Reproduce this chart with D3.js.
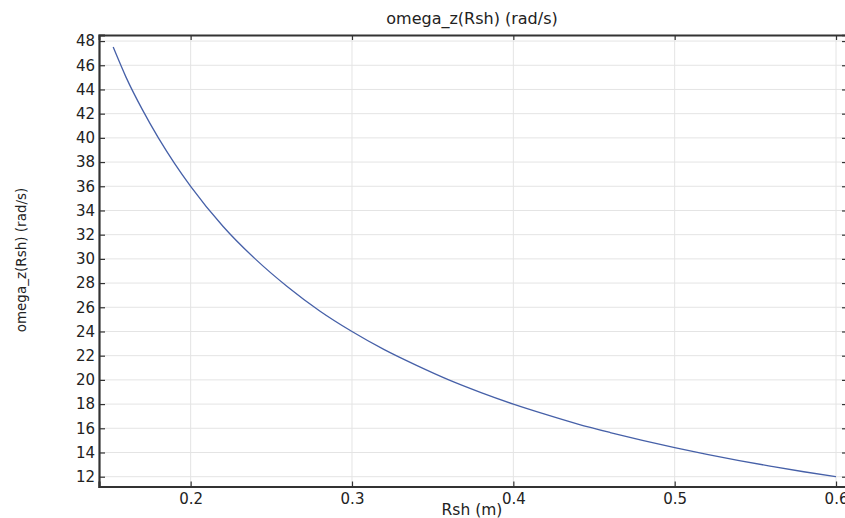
<!DOCTYPE html>
<html>
<head>
<meta charset="utf-8">
<script src="https://cdn.jsdelivr.net/npm/d3@7/dist/d3.min.js"></script>
<style>
  html, body { margin: 0; padding: 0; background: #fff; }
  svg { display: block; }
  text { font-family: "DejaVu Sans", sans-serif; fill: #222; }
</style>
</head>
<body>
<svg id="chart" width="845" height="518"></svg>
<script>
// Shaft radius (m) and the corresponding angular velocity omega_z (rad/s)
const rshValues   = [0.152, 0.16, 0.17, 0.18, 0.19, 0.20, 0.22, 0.24, 0.26, 0.28, 0.30,
                     0.32, 0.34, 0.36, 0.38, 0.40, 0.42, 0.44, 0.46, 0.48, 0.50,
                     0.52, 0.54, 0.56, 0.58, 0.60];
const omegaValues = [47.5, 45.0, 42.35, 40.0, 37.9, 36.0, 32.7, 30.0, 27.7, 25.7, 24.0,
                     22.5, 21.2, 20.0, 18.95, 18.0, 17.15, 16.35, 15.65, 15.0, 14.4,
                     13.85, 13.33, 12.86, 12.41, 12.0];
const xTicks = [0.2, 0.3, 0.4, 0.5, 0.6];
const yTicks = [12, 14, 16, 18, 20, 22, 24, 26, 28, 30, 32, 34, 36, 38, 40, 42, 44, 46, 48];

const titleText = "omega_z(Rsh) (rad/s)";
const xLabel = "Rsh (m)";
const yLabel = "omega_z(Rsh) (rad/s)";

const svg = d3.select("#chart");
const plotLeft = 99, plotRight = 847, plotTop = 35, plotBottom = 486.5;

const x = d3.scaleLinear().domain([0.1432, 0.6068]).range([plotLeft, plotRight]);
const y = d3.scaleLinear().domain([11.19, 48.5]).range([plotBottom, plotTop]);

// grid
const grid = svg.append("g");
grid.selectAll("line.h").data(yTicks).join("line")
  .attr("class", "h")
  .attr("x1", plotLeft).attr("x2", plotRight)
  .attr("y1", d => y(d)).attr("y2", d => y(d))
  .attr("stroke", "#e4e4e4").attr("stroke-width", 1);
grid.selectAll("line.v").data(xTicks).join("line")
  .attr("class", "v")
  .attr("y1", plotTop).attr("y2", plotBottom)
  .attr("x1", d => x(d)).attr("x2", d => x(d))
  .attr("stroke", "#e4e4e4").attr("stroke-width", 1);

// axes (ticks point inward)
const fmtX = d3.format(".1f");
const yAxisL = d3.axisLeft(y).tickValues(yTicks).tickSize(-6).tickPadding(4);
const yAxisR = d3.axisRight(y).tickValues(yTicks).tickSize(-5).tickFormat("");
const xAxisB = d3.axisBottom(x).tickValues(xTicks).tickSize(-5).tickPadding(7).tickFormat(fmtX);
const xAxisT = d3.axisTop(x).tickValues(xTicks).tickSize(-5).tickFormat("");

function style(g, w) {
  g.select(".domain").attr("stroke", "#333").attr("stroke-width", w);
  g.selectAll(".tick line").attr("stroke", "#333").attr("stroke-width", 1.2);
  g.selectAll(".tick text").attr("font-family", "DejaVu Sans, sans-serif")
    .attr("font-size", 15).attr("fill", "#1e1e1e");
}
svg.append("g").attr("transform", `translate(${plotLeft},0)`).call(yAxisL).call(g => style(g, 2.2));
svg.append("g").attr("transform", `translate(${plotRight},0)`).call(yAxisR).call(g => style(g, 1.5));
svg.append("g").attr("transform", `translate(0,${plotBottom})`).call(xAxisB).call(g => style(g, 2.2));
svg.append("g").attr("transform", `translate(0,${plotTop})`).call(xAxisT).call(g => style(g, 1.8));

// curve
const line = d3.line()
  .x((d, i) => x(rshValues[i]))
  .y(d => y(d))
  .curve(d3.curveMonotoneX);
svg.append("path")
  .datum(omegaValues)
  .attr("d", line)
  .attr("fill", "none")
  .attr("stroke", "#4660a8")
  .attr("stroke-width", 1.3);

// labels
svg.append("text").attr("x", 472).attr("y", 24).attr("text-anchor", "middle")
  .attr("font-size", 16).text(titleText);
svg.append("text").attr("x", 472).attr("y", 515).attr("text-anchor", "middle")
  .attr("font-size", 15.5).text(xLabel);
svg.append("text").attr("transform", "translate(26,260) rotate(-90)")
  .attr("text-anchor", "middle").attr("font-size", 13.5).text(yLabel);
</script>
</body>
</html>
